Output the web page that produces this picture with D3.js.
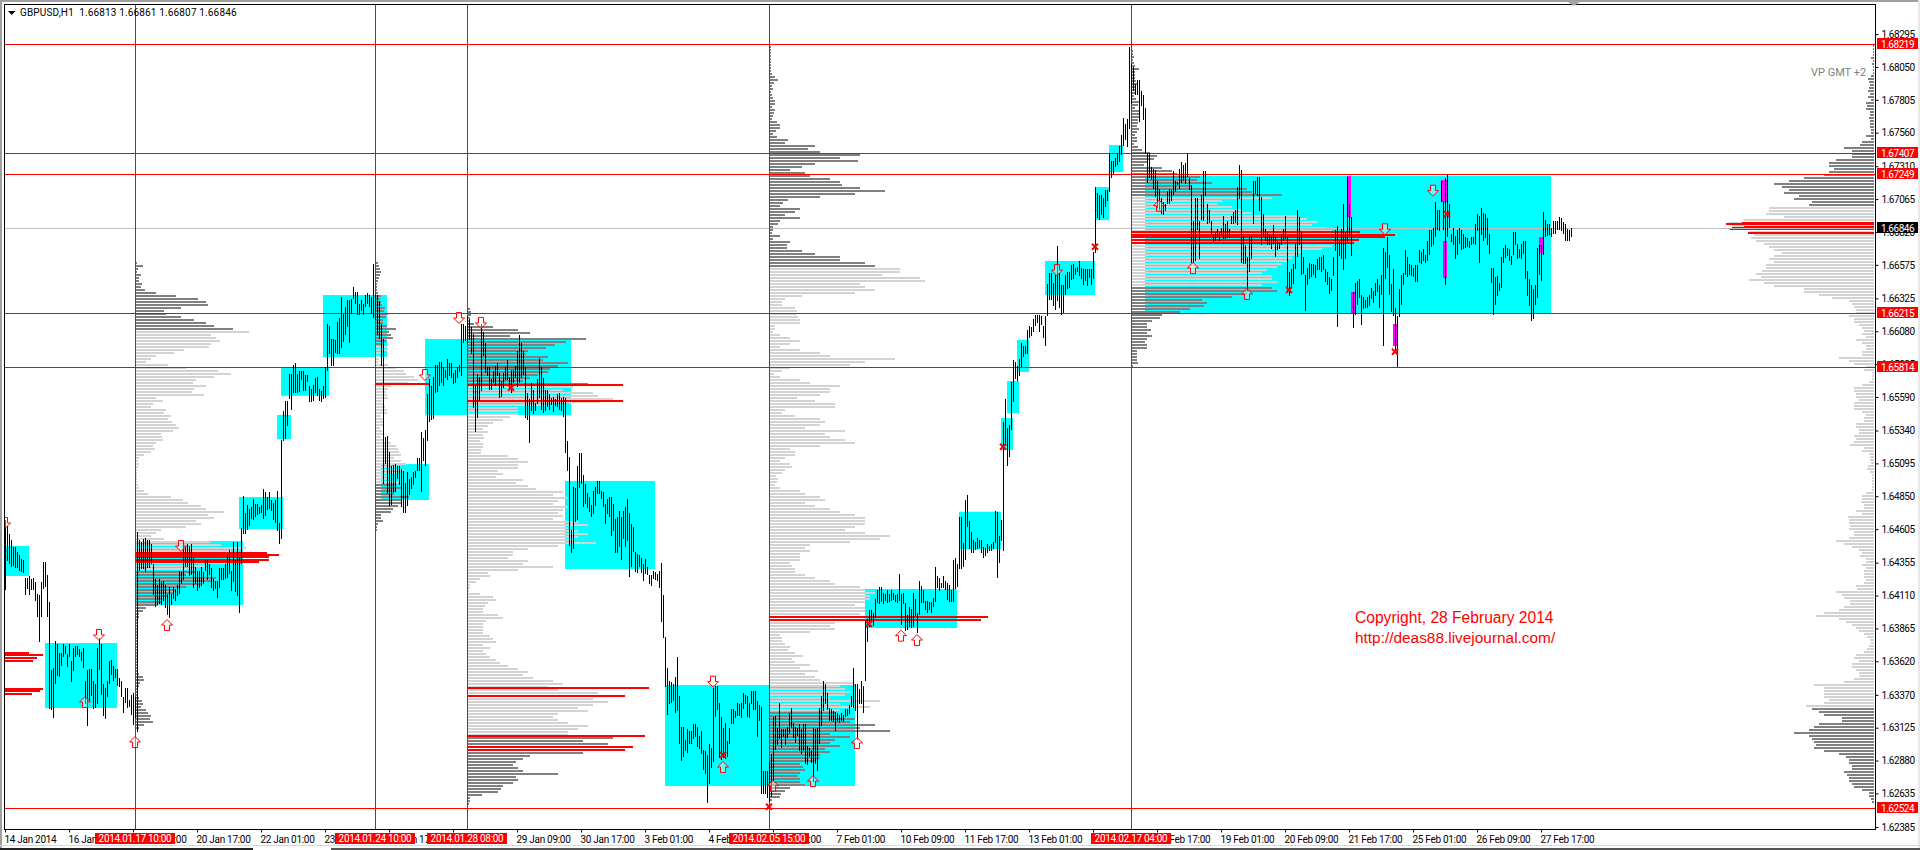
<!DOCTYPE html>
<html><head><meta charset="utf-8">
<script src="https://cdn.jsdelivr.net/npm/d3@7/dist/d3.min.js"></script>
<style>html,body{margin:0;padding:0;background:#fff;overflow:hidden}svg{display:block}text{font-family:Roboto,"Liberation Sans",sans-serif}</style>
</head><body><svg id="c" width="1920" height="850"></svg>
<script>
// All bar, rectangle, profile and marker values are in pips above basePrice.
const basePrice = 1.62472;
const priceTicks = [1.68295,1.6805,1.67805,1.6756,1.6731,1.67065,1.6682,1.66575,1.66325,1.6608,1.65835,1.6559,1.6534,1.65095,1.6485,1.64605,1.64355,1.6411,1.63865,1.6362,1.6337,1.63125,1.6288,1.62635,1.62385];
const levelPrices = [1.68219,1.67407,1.67249,1.66215,1.65814,1.62524];
const lastPrice = 1.66846;
const timeLabels = ["14 Jan 2014","16 Jan 01:00","17 Jan 09:00","20 Jan 17:00","22 Jan 01:00","23 Jan 09:00","24 Jan 17:00","28 Jan 01:00","29 Jan 09:00","30 Jan 17:00","3 Feb 01:00","4 Feb 09:00","5 Feb 17:00","7 Feb 01:00","10 Feb 09:00","11 Feb 17:00","13 Feb 01:00","14 Feb 09:00","17 Feb 17:00","19 Feb 01:00","20 Feb 09:00","21 Feb 17:00","25 Feb 01:00","26 Feb 09:00","27 Feb 17:00"];
const markerBars = [65,185,231,382,563];
const markerDates = ["2014.01.17 10:00","2014.01.24 10:00","2014.01.28 08:00","2014.02.05 15:00","2014.02.17 04:00"];
const barCount = 783;
// high,low pairs; barStarts gives the bar number of each block's first pair
const barStarts = [0,139,189,212,218,329,465,512,570];
const barsA = [220,168,216,190,210,188,205,185,200,186,200,184,196,184,194,182,191,181,190,180,177,164,177,169,178,164,176,168,177,168,174,160,165,148,164,129,174,148,189,169,189,170,179,148,159,79,108,78,110,73,130,98,128,104,121,103,121,111,128,118,126,120,120,110,128,118,115,99,125,108,126,118,126,119,124,118,122,115,125,110,100,83,108,66,109,85,109,89,100,79,98,80,125,83,132,108,128,90,98,74,95,72,100,88,115,98,116,105,111,100,109,102,109,96,102,95,100,88,88,76,95,84,95,80,86,81,90,75,91,67,88,72,211,62,205,182,204,184,206,184,207,182,205,184,205,184,202,187,187,164,176,155,172,157,176,157,174,157,175,160,172,155,165,149,170,147,165,157,170,161,169,160,172,164,182,165,181,172,202,175,200,185,202,185,201,179,202,179,192,170,185,172,182,167,182,169,185,171,181,172,190,182,190,175,187,179,184,169,176,167,175,169,175,162,184,169,184,175,184,175,187,176,195,177,198,180,182,167,204,174,190,166,204,164,192,151,214,187,238,210,225,209,231,212,228,215,230,221,236,220,232,222,232,224,230,225,231,225,243,221,241,223,237,227,241,228,235,227,233,220,235,218,242,212,218,202,280,206];
const barsB = [301,279,309,281,309,290,329,310,329,302,336,315,337,315,329,315,331,315,331,324,331,316,328,316,328,323,320,308,318,308,321,309,326,315,327,313,318,309,316,308,320,310,334,311,366,331,365,344,355,335,355,335,354,344,368,344,371,344,386,348,374,353,379,358,384,364,384,352,385,374,394,385,390,381,390,373,381,373,384,376,381,373,388,379,389,381,388,379,386,373,411,371,388,369,388,358,383,355,366,335];
const barsC = [355,247,282,262,283,240,271,231,260,231,261,240,262,241,260,250,260,246,258,230,257,226,248,226,256,231,251,239,252,243,256,246,257,252,266,256,266,256,286,241,281,264,287,260,314,279];
const barsD = [325,293,320,295,327,296,336,315,336,316,338,320];
const barsE = [338,322,334,320,332,326,340,324,337,327,337,326,330,322,332,322,334,326,336,331,366,327,366,352,365,354,372,352,370,354,364,344,359,304,321,286,329,296,327,309,366,316,360,342,352,330,334,327,334,317,325,317,331,322,335,320,337,327,330,311,324,312,330,319,334,324,339,324,327,317,332,315,332,322,335,326,346,319,358,322,352,326,346,328,334,296,315,295,310,277,322,301,317,299,307,301,325,306,341,311,334,302,326,300,317,301,317,304,314,302,311,306,312,301,310,305,314,304,315,302,311,301,312,297,311,270,279,257,267,201,213,196,245,199,244,219,260,220,270,244,270,247,254,230,247,232,240,229,237,226,231,222,242,225,245,231,249,239,249,239,242,236,241,230,232,217,236,225,237,222,237,208,232,212,221,196,222,195,227,200,222,190,227,206,230,200,236,205,225,177,217,185,215,196,196,181,195,181,194,185,192,181,187,174,191,180,185,179,179,172,179,171,182,176,181,175,180,175,182,169,188,144];
const barsF = [164,132,133,96,110,75,100,83,99,83,98,85,103,76,118,78,89,53,66,41,66,44,56,48,64,46,63,53,63,53,68,57,68,58,66,51,59,49,63,46,49,34,48,31,45,9,53,23,50,35,95,40,96,73,96,78,84,43,73,41,65,43,69,42,55,43,65,53,79,68,79,68,78,73,84,74,83,74,84,73,91,79,90,83,89,73,84,73,93,83,93,79,93,79,85,58,82,70,81,16,33,16,33,16,33,13,40,10,46,14,73,25,74,49,65,52,84,57,64,50,64,58,64,52,66,58,76,60,80,65,69,58,66,54,65,59,68,48,64,45,68,48,68,38,52,38,50,43,49,39,65,25,64,38,65,33,80,53,89,67,100,78,98,83,91,78,80,70,79,70,78,70,77,63,76,69,75,69,76,70,75,70,79,73,79,74,82,75,89,81,110,80,98,78,98,56,94,83,100,83,96,76,145,100,146,129,153,140,153,144,151,141,161,147,168,158,170,157,170,159,166,158,165,160,168,158,165,159,168,160,166,161,164,159,165,158,180,160,165,142,166,158,158,137,149,138,155,140,154,140,166,141,161,148,151,136,175,150,171,158,168,158,160,153,160,151,159,153,159,151,162,155];
const barsG = [185,159,178,169,177,167,173,169,178,169,175,168,173,160,172,159,168,159,190,159,192,169,187,170,222,183,222,183,203,185,235,190,239,215,219,198,211,195,205,195,204,198,207,199,205,199,205,195,200,192,199,193,202,195,201,197,202,197,204,199,227,203,226,177,208,188,220,204,293,197,310,275,289,261,291,267,323,287,339,308,338,325,335,324,340,327,352,334,350,342,350,344,362,344];
const barsH = [365,356,364,357,370,360,373,365,373,367,373,360,372,365,365,356,372,350,396,372,404,384,404,384,397,380,403,377,424,383,404,378,395,373,395,374,403,388,405,392,405,393,410,399,411,400,408,403,409,405,413,402,408,400,407,395,407,398,407,394,407,400,407,395,420,400,468,419,464,445,462,443,462,447,460,445,466,453,466,458,494,465,488,475,488,478,490,483,494,485,499,487,507,492,520,499,515,503,519,498,573,512,560,530,558,540,545,537,548,537,548,517,540,529,537,518];
const barsI = [527,493,494,472,494,475,483,473,482,467,481,461,473,453,467,451,460,448,457,447,456,451,465,455,467,456,466,458,480,462,473,465,472,470,482,467,487,471,485,473,486,470,493,476,475,466,470,412,443,412,460,413,460,436,443,415,462,443,480,443,480,461,456,441,451,441,443,433,433,427,435,428,437,431,435,428,438,433,447,430,441,430,443,430,437,430,447,441,450,441,451,441,468,440,485,460,481,412,432,411,425,411,416,391,431,405,432,415,473,441,473,463,476,462,476,451,461,425,448,431,437,428,435,425,433,425,432,422,440,426,431,416,428,421,427,422,433,425,437,428,447,430,432,390,405,387,407,393,411,396,426,407,451,416,446,425,435,403,416,403,403,376,408,395,412,400,411,401,411,403,410,400,415,407,416,406,416,405,418,407,407,397,405,395,401,388,400,391,416,402,436,420,439,364,428,417,437,415,456,407,435,415,476,427,456,432,446,417,390,363,397,373,398,380,400,386,388,366,386,377,384,378,386,378,388,380,393,385,391,382,397,387,400,390,395,378,403,388,423,350,420,400,431,408,418,388,396,375,407,372,378,347,372,334,392,371,403,381,404,395,421,402,416,401,411,403,410,402,408,401,410,397,410,397,421,411,420,411,422,413,418,412,428,413,436,417,436,423,438,425,457,431,451,436,451,435,473,457,457,436,475,395,478,431,456,438,433,427,438,425,432,415,436,417,438,426,436,421,433,422,431,423,430,423,428,423,431,425,431,426,441,425,448,435,447,412,453,433,449,428,448,430,445,425,433,418,408,397,408,373,401,380,402,387,397,391,416,393,423,412,425,415,423,417,422,413,417,410,435,418,435,425,426,415,422,415,426,415,428,418,428,400,406,387,400,380,395,368,392,370,395,380,423,386,425,403,425,398,450,418,444,431,441,432,441,433,438,431,443,433,443,433,443,436,446,436,445,435,442,433,441,428,437,428,436,428,438,431];
// zones: startBar,endBar,top,bottom
const cyanZones = [[0,12,200.7,178.4],[20,56,128.4,80],[65.5,119,204.4,156.7],[117,139,237.2,213.4],[136,143,298.4,280.5],[138,162,333.6,312.7],[159,191,387.8,341.6],[188,212,261.8,235],[210,283,355,298.4],[280,325,249.2,183.6],[330,425,97.1,21.8],[430,476,168.7,139.6],[477,498,226.3,198.5],[498,504,296.1,272.3],[501,507,323.7,299.9],[506,512,354.3,330.4],[520,545,413.2,387.8],[545,552,468.3,443.7],[552,559,499.6,479.5],[570,773,476.7,374.2]];
const magentaZones = [[671,673,476.5,445.9],[673,675,390,374.4],[694,696,366.2,349.8],[718,721,473.5,457.1],[719,721,428.1,400.5],[767,769,431,419.1]];
// Volume profiles: one volume per price row, from the top row down
const profileBars = [65,185,231,382,563];
const profileTops = [412.4,412.4,378.1,573.4,570.4];
const rightTop = 574.2;
const rowStep = 2.236;
const prof1 = [1,7,2,1,5,3,3,6,5,9,20,40,62,70,72,45,28,30,45,58,70,78,97,113,75,80,84,75,73,48,38,20,15,10,32,50,82,95,78,60,57,70,58,56,68,20,27,17,15,30,28,35,32,36,40,43,37,25,26,27,20,17,19,15,8,3,2,3,2,1,1,1,1,1,2,3,8,12,35,47,52,65,70,88,72,78,60,65,50,25,20,15,28,75,85,110,95,95,95,95,95,70,60,60,50,80,75,65,50,40,38,32,25,25,22,10,7,3,3,1,1,1,1,1,1,1,1,1,1,1,1,1,1,1,1,1,1,3,7,8,4,3,1,1,1,3,6,7,5,10,12,15,14,17,8,3];
const prof2 = [2,3,4,5,4,3,2,1,1,1,2,5,4,5,6,9,8,12,10,7,7,11,20,13,15,17,10,8,11,12,5,4,3,2,12,20,28,30,38,42,32,15,12,10,11,12,6,7,9,11,11,5,8,7,7,4,6,7,5,8,15,20,22,23,25,18,25,30,20,28,22,12,12,23,20,25,20,18,33,25,25,22,17,15,5,5,7,2,1,1];
const prof3 = [2,3,3,2,2,6,25,50,62,42,118,98,87,78,60,58,80,75,100,90,82,80,70,62,55,120,105,95,125,130,145,132,80,50,50,50,42,35,25,20,15,20,15,16,12,15,15,13,13,40,50,60,50,50,30,35,28,55,48,60,68,95,85,100,90,85,100,95,90,95,85,110,120,100,110,120,110,105,128,90,60,45,45,40,60,55,85,50,20,22,12,8,2,2,1,12,25,28,20,17,15,15,30,35,18,15,15,15,15,22,25,28,15,22,15,18,22,28,32,40,50,60,55,65,85,95,80,90,130,120,125,140,125,110,120,90,85,90,100,120,110,100,100,145,115,140,130,150,115,62,55,48,45,50,55,90,48,50,45,35,33,30,14,2,2,1];
const prof4 = [1,1,1,1,1,1,1,1,1,2,5,8,4,2,3,1,2,3,5,5,2,5,4,3,2,7,10,10,6,3,7,18,15,45,38,50,90,70,88,45,32,20,35,40,60,70,72,90,115,85,50,18,13,10,30,25,15,30,10,8,3,3,2,10,3,20,17,17,32,45,70,70,95,105,130,130,112,150,155,90,95,105,85,32,15,12,12,25,27,27,28,30,30,5,5,3,10,20,30,20,10,30,50,60,125,95,80,20,12,4,10,30,40,70,60,60,50,27,45,65,65,15,12,25,50,55,50,35,75,55,60,75,85,50,20,25,25,15,10,20,22,15,12,6,8,7,5,10,30,35,50,55,35,45,60,70,85,95,95,95,85,75,95,120,110,80,40,35,40,30,30,30,20,22,25,25,35,45,60,65,90,95,105,100,100,95,85,95,95,90,80,85,65,60,65,40,10,12,12,15,20,18,25,33,22,25,40,30,48,35,45,50,85,70,75,80,75,60,110,70,100,70,65,65,85,80,105,90,120,60,80,65,60,70,55,60,50,50,45,30,33,35,30,28,30,30,35,20,15,11,10,2];
const prof5 = [1,1,2,1,2,3,7,3,3,3,4,5,4,3,3,2,4,8,6,3,7,8,8,6,6,5,7,5,3,5,5,2,6,10,18,25,22,15,12,30,40,45,68,65,80,60,115,120,150,140,90,85,100,110,120,165,175,185,180,195,200,225,225,225,205,200,190,170,165,160,155,150,145,135,130,140,140,145,130,140,145,115,100,70,75,72,58,48,30,28,20,15,15,19,15,20,15,13,15,15,5,5,5,5,6,1];
const profRight = [1,1,1,1,3,1,2,1,1,1,3,6,5,4,5,6,4,6,3,8,7,8,4,4,5,4,4,4,3,3,8,3,12,14,30,22,22,22,38,45,45,40,45,50,70,85,100,92,85,90,75,80,62,65,105,105,108,90,130,145,142,145,125,120,123,118,110,105,100,92,100,105,100,108,108,112,118,113,125,110,100,70,70,55,42,25,22,20,18,18,25,20,20,15,12,10,12,8,18,12,8,8,12,12,35,25,20,8,10,2,2,2,5,12,20,20,18,18,15,20,20,20,12,8,10,10,18,18,15,15,20,18,20,24,10,12,5,4,4,3,6,7,4,2,2,2,2,2,2,8,12,12,13,10,10,18,12,26,25,25,24,25,20,20,25,38,30,22,15,12,14,8,8,12,8,10,10,10,8,10,18,17,38,32,30,24,24,30,35,50,58,35,28,22,18,15,10,7,4,3,5,7,10,18,20,15,22,22,18,15,15,20,30,60,50,50,50,50,45,50,68,62,55,50,32,32,55,60,65,80,65,62,60,58,60,50,35,28,25,25,22,22,30,27,25,25,22,20,12,5,5,3,2];
// dark rows of each profile, as top/bottom ranges
const darkRows = [[[413,361],[183,-10]],[[413,350.5],[248.4,-10]],[[379,320.7],[59.8,-10]],[[574,408.7],[78.5,-10]],[[571,460.9],[393.8,-10]]];
const darkRowsRight = [[575,454.9],[82.2,-10]];
// red point-of-control rows: [profile, level, volume]
const pocRows = [[-1,121.7,24],[-1,119.9,38],[-1,118,32],[-1,116.1,28],[-1,94.9,38],[-1,93.1,35],[-1,91.4,27],[0,195.9,131],[0,194.4,143],[0,192.9,133],[0,191.4,133],[0,189.9,123],[1,322.2,54],[2,321.5,155],[2,309.5,155],[2,95.6,181],[2,89.6,157],[2,59.6,177],[2,51.6,165],[2,49.2,157],[3,148.5,218],[3,146.5,211],[4,435.5,228],[4,433.6,263],[4,431.8,253],[4,429.5,227],[4,427.7,222]];
const pocRight = [[442.4,132],[441.3,148],[439.6,130],[438.5,142],[437.4,144],[434.8,126]];
// arrows and crosses: bar, level
const downArrows = [[0,217.9],[47,134.4],[88,200.7],[210,328.2],[227,370.7],[238,367],[354,99.6],[526,406.4],[690,436.8],[714,465.6]];
const upArrows = [[40,84.4],[65,54.6],[81,141.8],[359,36],[384,22],[404,25.5],[426,53.9],[448,133.9],[456,130.6],[577,454.4],[594,408],[621,388.6]];
const crosses = [[253,318.7],[359,44.9],[382,6.4],[432,142.6],[499,274.7],[545,423.8],[642,391.5],[695,345.5],[721,448.2]];

const svg = d3.select("#c");
const L=4,R=1875,T=4,B=829;
const x = d3.scaleLinear().domain([0,barCount]).range([5,5+2*barCount]);
const y = d3.scaleLinear().domain([1.62524,1.68219]).range([808.3,44.3]);
const yp = p => y(basePrice + p/10000);
const vol = d3.scaleLinear().domain([0,1]).range([0,1]);
const RED="#ff0000",CYAN="#00ffff",MAG="#ff00ff",DARK="#808080",LIGHT="#d3d3d3";

// chrome
svg.append("rect").attr("width",1920).attr("height",850).attr("fill","#fff");
svg.append("rect").attr("x",0).attr("y",0).attr("width",1920).attr("height",2).attr("fill","#a0a0a0");
svg.append("rect").attr("x",0).attr("y",0).attr("width",2).attr("height",850).attr("fill","#a0a0a0");
svg.append("rect").attr("x",1918).attr("y",0).attr("width",2).attr("height",850).attr("fill","#e8e8e8");
svg.append("rect").attr("x",0).attr("y",845).attr("width",1920).attr("height",1).attr("fill","#d8d8d8");
svg.append("rect").attr("x",0).attr("y",848).attr("width",253).attr("height",2).attr("fill","#222");
svg.append("rect").attr("x",331).attr("y",848).attr("width",1589).attr("height",2).attr("fill","#555");
svg.append("defs").append("clipPath").attr("id","plot").append("rect").attr("x",L).attr("y",T).attr("width",R-L).attr("height",B-T);

// zones
const zoneLayer = svg.append("g");
zoneLayer.selectAll("rect").data(cyanZones).join("rect")
 .attr("x",d=>x(d[0])).attr("width",d=>x(d[1])-x(d[0])).attr("y",d=>yp(d[2])).attr("height",d=>yp(d[3])-yp(d[2])).attr("fill",CYAN);
zoneLayer.append("g").selectAll("rect").data(magentaZones).join("rect")
 .attr("x",d=>x(d[0])).attr("width",d=>x(d[1])-x(d[0])).attr("y",d=>yp(d[2])).attr("height",d=>yp(d[3])-yp(d[2])).attr("fill",MAG);

// profiles
const isDark=(p,bands)=>bands.some(b=>p<=b[0]&&p>b[1]);
const profLayer = svg.append("g");
[prof1,prof2,prof3,prof4,prof5].forEach((vals,n)=>{
  const x0 = x(profileBars[n])+1;
  profLayer.append("g").selectAll("rect").data(vals).join("rect")
   .attr("x",x0).attr("width",d=>vol(d))
   .attr("y",(d,i)=>Math.round(yp(profileTops[n]-i*rowStep))).attr("height",2)
   .attr("fill",(d,i)=>isDark(profileTops[n]-i*rowStep,darkRows[n])?DARK:LIGHT);
});
profLayer.append("g").selectAll("rect").data(profRight).join("rect")
 .attr("x",d=>1874-vol(d)).attr("width",d=>vol(d))
 .attr("y",(d,i)=>Math.round(yp(rightTop-i*rowStep))).attr("height",2)
 .attr("fill",(d,i)=>isDark(rightTop-i*rowStep,darkRowsRight)?DARK:LIGHT);
profLayer.append("g").selectAll("rect").data(pocRows).join("rect")
 .attr("x",d=>d[0]<0?5:x(profileBars[d[0]])+1).attr("width",d=>vol(d[2]))
 .attr("y",d=>Math.round(yp(d[1]))).attr("height",2).attr("fill",RED);
profLayer.append("g").selectAll("rect").data(pocRight).join("rect")
 .attr("x",d=>1874-vol(d[1])).attr("width",d=>vol(d[1]))
 .attr("y",d=>Math.round(yp(d[0]))).attr("height",2).attr("fill",RED);

// levels
svg.append("line").attr("x1",L).attr("x2",R).attr("y1",Math.round(y(lastPrice))+.5).attr("y2",Math.round(y(lastPrice))+.5).attr("stroke","#c0c0c0");
svg.append("g").selectAll("line").data(levelPrices).join("line")
 .attr("x1",L).attr("x2",R).attr("y1",d=>Math.round(y(d))+.5).attr("y2",d=>Math.round(y(d))+.5).attr("stroke",RED);
svg.append("g").selectAll("line").data(markerBars).join("line")
 .attr("x1",d=>x(d)+.5).attr("x2",d=>x(d)+.5).attr("y1",T).attr("y2",B).attr("stroke",RED);

// price bars
const barBlocks=[barsA,barsB,barsC,barsD,barsE,barsF,barsG,barsH,barsI];
const bars=[];
barBlocks.forEach((b,n)=>{for(let k=0;k<b.length;k+=2)bars.push({i:barStarts[n]+k/2,h:b[k],l:b[k+1]});});
svg.append("g").selectAll("rect").data(bars).join("rect")
 .attr("x",d=>x(d.i)).attr("width",1).attr("y",d=>Math.round(yp(d.h))).attr("height",d=>Math.max(1,Math.round(yp(d.l)-yp(d.h)))).attr("fill","#000");

// arrows and crosses
const arrow="M-2.5,-5.5H2.5V0H5.5L0,5.5L-5.5,0H-2.5Z";
const ag=svg.append("g").attr("clip-path","url(#plot)");
ag.selectAll(".dn").data(downArrows).join("path").attr("class","dn").attr("d",arrow)
 .attr("transform",d=>`translate(${x(d[0])},${yp(d[1])})`).attr("fill","#fff").attr("fill-opacity",.4).attr("stroke",RED).attr("stroke-width",1);
ag.selectAll(".up").data(upArrows).join("path").attr("class","up").attr("d",arrow)
 .attr("transform",d=>`translate(${x(d[0])},${yp(d[1])}) rotate(180)`).attr("fill","#fff").attr("fill-opacity",.4).attr("stroke",RED).attr("stroke-width",1);
ag.selectAll(".xx").data(crosses).join("path").attr("class","xx").attr("d","M-3,-3L3,3M-3,3L3,-3")
 .attr("transform",d=>`translate(${x(d[0])},${yp(d[1])})`).attr("fill","none").attr("stroke",RED).attr("stroke-width",2);

// frame
svg.append("rect").attr("x",L+.5).attr("y",T+.5).attr("width",R-L).attr("height",B-T).attr("fill","none").attr("stroke","#000");

// axes
const axisFont="10px";
const yAxis=svg.append("g").attr("transform",`translate(${R+.5},0)`)
 .call(d3.axisRight(y).tickValues(priceTicks).tickSize(3).tickFormat(d3.format(".5f")));
yAxis.select(".domain").remove();
yAxis.selectAll("line").attr("stroke","#000");
yAxis.selectAll("text").attr("x",6).attr("font-size",axisFont).attr("letter-spacing","-0.45px").attr("fill","#000").style("font-family","Roboto").attr("dy","0.32em");
const tickBars=timeLabels.map((d,i)=>i*32);
const xAxis=svg.append("g").attr("transform",`translate(0,${B+.5})`)
 .call(d3.axisBottom(x).tickValues(tickBars).tickSize(3).tickFormat((d,i)=>timeLabels[i]));
xAxis.select(".domain").remove();
xAxis.selectAll("line").attr("stroke","#000");
xAxis.selectAll("text").attr("text-anchor","start").attr("x",-1).attr("y",6).attr("dy","0.71em").attr("font-size",axisFont).attr("letter-spacing","-0.3px").attr("fill","#000").style("font-family","Roboto");

// price and date flags
const flag=svg.append("g");
levelPrices.forEach(p=>{
 const c=Math.round(y(p));
 flag.append("rect").attr("x",1877).attr("y",c-6).attr("width",41).attr("height",11).attr("fill",RED);
 flag.append("text").attr("x",1881).attr("y",c+3.5).attr("font-size",axisFont).attr("letter-spacing","-0.45px").attr("fill","#fff").text(d3.format(".5f")(p));
});
{const c=Math.round(y(lastPrice));
 flag.append("rect").attr("x",1877).attr("y",c-6).attr("width",41).attr("height",11).attr("fill","#000");
 flag.append("text").attr("x",1881).attr("y",c+3.5).attr("font-size",axisFont).attr("letter-spacing","-0.45px").attr("fill","#fff").text(d3.format(".5f")(lastPrice));}
markerBars.forEach((b,i)=>{
 const c=x(b);
 flag.append("rect").attr("x",c-40).attr("y",833).attr("width",80).attr("height",11).attr("fill",RED);
 flag.append("text").attr("x",c).attr("y",842).attr("text-anchor","middle").attr("font-size",axisFont).attr("letter-spacing","-0.3px").attr("fill","#fff").text(markerDates[i]);
});

// captions
svg.append("path").attr("d","M8,11H15.5L11.7,15Z").attr("fill","#000");
svg.append("text").attr("x",20).attr("y",16).attr("font-size","10px").attr("letter-spacing","0.15px").attr("fill","#000").attr("xml:space","preserve").style("white-space","pre").text("GBPUSD,H1  1.66813 1.66861 1.66807 1.66846");
svg.append("text").attr("x",1811).attr("y",76).attr("font-size","11px").attr("fill","#808080").text("VP GMT +2");
svg.append("text").attr("x",1355).attr("y",623).attr("font-size","15.6px").attr("fill",RED).style("font-family","'Liberation Sans'").text("Copyright, 28 February 2014");
svg.append("text").attr("x",1355).attr("y",643).attr("font-size","15.4px").attr("fill",RED).style("font-family","'Liberation Sans'").text("http://deas88.livejournal.com/");
svg.append("path").attr("d","M1568,2H1580L1574,6Z").attr("fill","#a8a8a8");
</script></body></html>
